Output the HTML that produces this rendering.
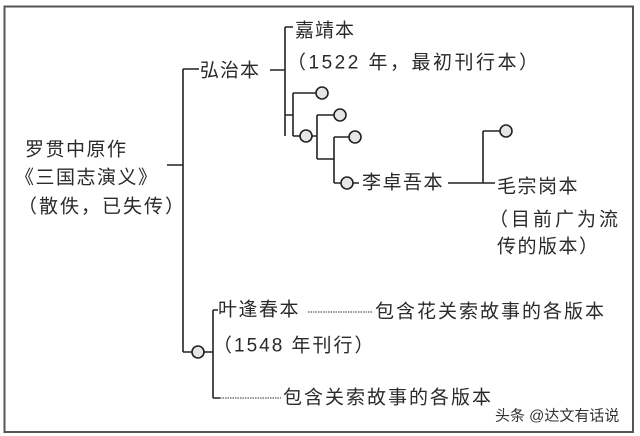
<!DOCTYPE html>
<html><head><meta charset="utf-8"><style>
html,body{margin:0;padding:0;background:#fff;width:640px;height:436px;overflow:hidden}
svg{display:block}
text{font-family:"Liberation Sans","Noto Sans CJK SC",sans-serif;font-size:19px;fill:#2a2a2a;dominant-baseline:central}
</style></head><body>
<svg width="640" height="436" viewBox="0 0 640 436">
<rect x="0" y="0" width="640" height="436" fill="#fff"/>
<rect x="4.5" y="6.5" width="628.5" height="425.5" fill="none" stroke="#555" stroke-width="2"/>
<g stroke="#222" stroke-width="1.6" fill="none">
<path d="M167 165H183M183 69V352M183 69H199M183 352H192"/>
<path d="M270 70H285M285 27V136M285 27H293M285 115H293M293 93V136M293 93H316M293 136H300M312 136H317M317 115V159M317 115H334M317 159H334M334 137V183M334 137H349M334 183H341M353 183H359"/>
<path d="M448 183H495M483 131V183M483 131H500"/>
<path d="M204 352H213M213 310V398M213 310H218M213 398H220"/>
</g>
<g stroke="#333" stroke-width="1" stroke-dasharray="1.5 1" fill="none">
<path d="M308 312H373M220 398H281"/>
</g>
<g stroke="#222" stroke-width="1.6" fill="#e6e6e6">
<circle cx="322" cy="93" r="6"/>
<circle cx="306" cy="136" r="6"/>
<circle cx="340" cy="115" r="6"/>
<circle cx="355" cy="137" r="6"/>
<circle cx="347" cy="183" r="6"/>
<circle cx="506" cy="131" r="6"/>
<circle cx="198" cy="352" r="6"/>
</g>
<text x="25" y="150" style="letter-spacing:1.5px">罗贯中原作</text>
<text x="15" y="178" style="letter-spacing:1.5px">《三国志演义》</text>
<text x="18" y="207" style="letter-spacing:2px">（散佚，已失传）</text>
<text x="200" y="71" style="letter-spacing:1px">弘治本</text>
<text x="295" y="31" style="letter-spacing:1px">嘉靖本</text>
<text x="287" y="63" style="letter-spacing:2.5px">（1522 年，最初刊行本）</text>
<text x="362" y="183" style="letter-spacing:1.5px">李卓吾本</text>
<text x="497" y="187" style="letter-spacing:1.5px">毛宗岗本</text>
<text x="489" y="220" style="letter-spacing:3px">（目前广为流</text>
<text x="497" y="247" style="letter-spacing:1.5px">传的版本）</text>
<text x="218" y="310" style="letter-spacing:1.5px">叶逢春本</text>
<text x="375" y="312" style="letter-spacing:2px">包含花关索故事的各版本</text>
<text x="213" y="346" style="letter-spacing:2px">（1548 年刊行）</text>
<text x="283" y="398" style="letter-spacing:2px">包含关索故事的各版本</text>
<text x="495" y="416" style="font-size:15px;fill:#333">头条 @达文有话说</text>
</svg>
</body></html>
